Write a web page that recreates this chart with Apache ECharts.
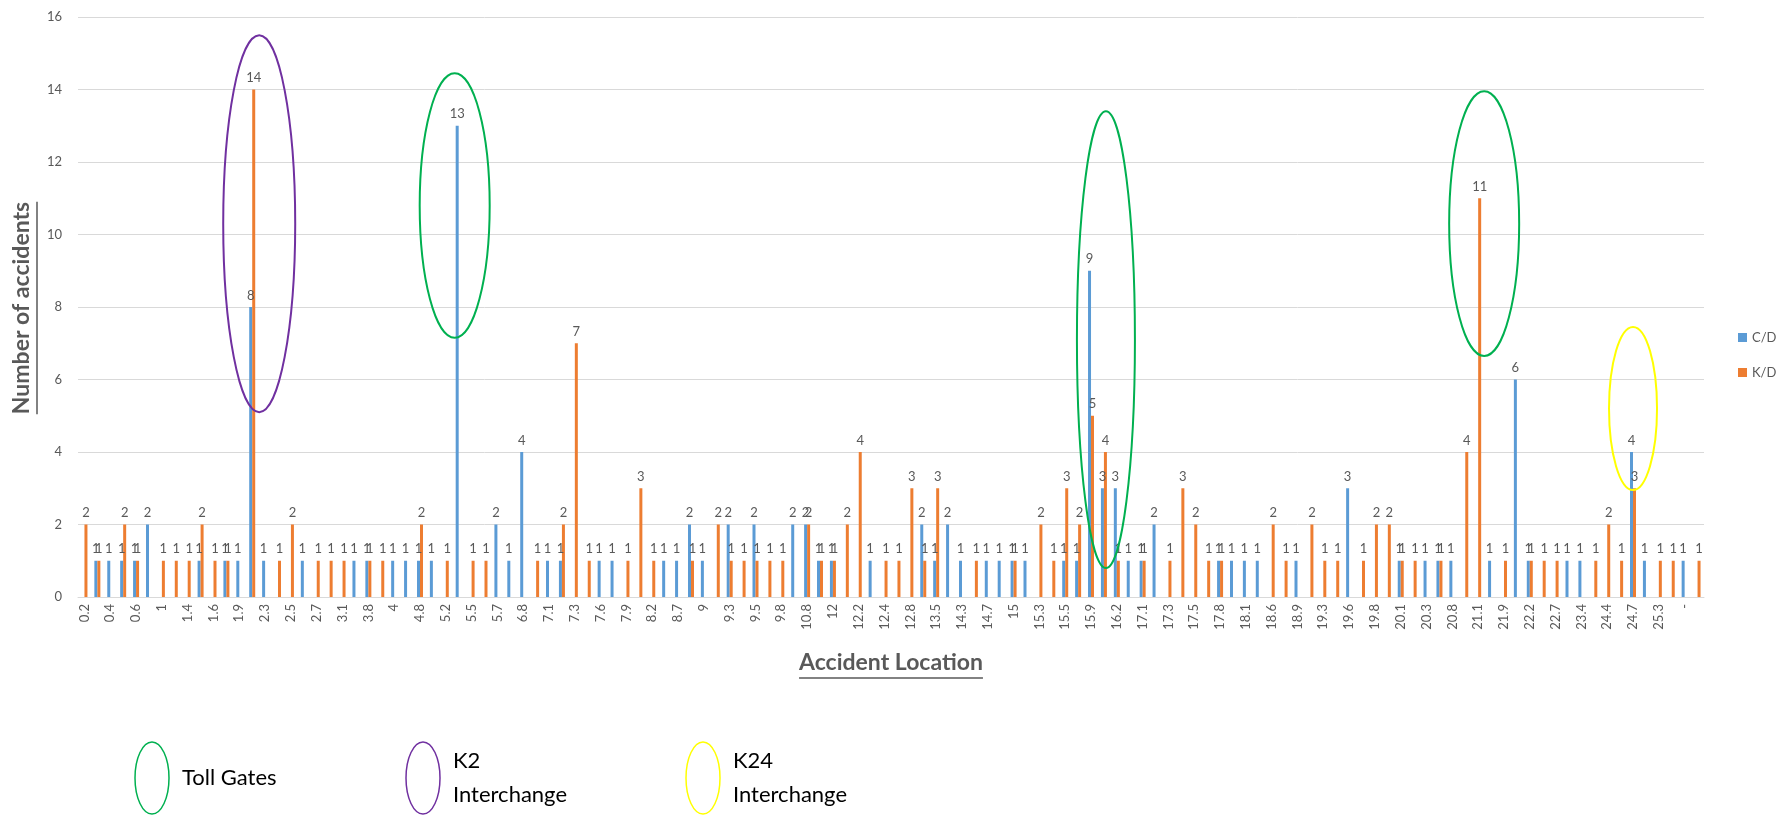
<!DOCTYPE html>
<html>
<head>
<meta charset="utf-8">
<script src="https://cdn.jsdelivr.net/npm/echarts@6/dist/echarts.min.js"></script>
<style>html,body{margin:0;padding:0;background:#fff}#main{width:1784px;height:816px}</style>
</head>
<body>
<div id="main"></div>
<script>
// accident location (km), every other one is labelled on the axis
var locations = ['0.2','0.3','0.4','0.5','0.6','0.8','1','1.2','1.4','1.5',
  '1.6','1.8','1.9','2','2.3','2.4','2.5','2.6','2.7','2.9',
  '3.1','3.5','3.8','3.9','4','4.5','4.8','5','5.2','5.3',
  '5.5','5.6','5.7','6.2','6.8','7','7.1','7.2','7.3','7.5',
  '7.6','7.8','7.9','8','8.2','8.5','8.7','8.9','9','9.2',
  '9.3','9.4','9.5','9.7','9.8','10.5','10.8','11.4','12','12.1',
  '12.2','12.3','12.4','12.6','12.8','13.2','13.5','13.8','14.3','14.5',
  '14.7','14.9','15','15.1','15.3','15.4','15.5','15.7','15.9','16',
  '16.2','16.5','17.1','17.2','17.3','17.4','17.5','17.6','17.8','17.9',
  '18.1','18.3','18.6','18.8','18.9','19.1','19.3','19.4','19.6','19.7',
  '19.8','20','20.1','20.2','20.3','20.5','20.8','21','21.1','21.5',
  '21.9','22','22.2','22.5','22.7','23','23.4','24','24.4','24.5',
  '24.7','25','25.3','25.5','-','(blank)'];

var cdCounts = [0,1,1,1,1,2,0,0,0,1,
  0,1,1,8,1,0,0,1,0,0,
  0,1,1,0,1,1,1,1,0,13,
  0,0,2,1,4,0,1,1,0,0,
  1,1,0,0,0,1,1,2,1,0,
  2,0,2,0,0,2,2,1,1,0,
  0,1,0,0,0,2,1,2,1,0,
  1,1,1,1,0,0,1,1,9,3,
  3,1,1,2,0,0,0,0,1,1,
  1,1,0,0,1,0,0,0,3,0,
  0,0,1,0,1,1,1,0,0,1,
  0,6,1,0,0,1,1,0,0,0,
  4,1,0,0,1,0];

var kdCounts = [2,1,0,2,1,0,1,1,1,2,
  1,1,0,14,0,1,2,0,1,1,
  1,0,1,1,0,0,2,0,1,0,
  1,1,0,0,0,1,0,2,7,1,
  0,0,1,3,1,0,0,1,0,2,
  1,1,1,1,1,0,2,1,1,2,
  4,0,1,1,3,1,3,0,0,1,
  0,0,1,0,2,1,3,2,5,4,
  1,0,1,0,1,3,2,1,1,0,
  0,0,2,1,0,2,1,1,0,1,
  2,2,1,1,0,1,0,4,11,0,
  1,0,1,1,1,0,0,1,2,1,
  3,0,1,1,0,1];

var chart = echarts.init(document.getElementById('main'));
var gray = '#595959';

function barLabel(p) {
  return p.value ? String(p.value) : '';
}

var option = {
  animation: false,
  grid: { left: 78, right: 80, top: 17, bottom: 219 },
  legend: {
    data: ['C/D', 'K/D'],
    orient: 'vertical',
    left: 1733,
    top: 326,
    icon: 'rect',
    itemWidth: 9,
    itemHeight: 9,
    itemGap: 22,
    textStyle: { fontSize: 13, color: gray, fontFamily: 'Lato' }
  },
  xAxis: {
    type: 'category',
    data: locations,
    axisTick: { show: false },
    axisLine: { lineStyle: { color: '#D9D9D9' } },
    axisLabel: { interval: 1, rotate: 90, fontSize: 13, color: gray, margin: 7, fontFamily: 'Lato' }
  },
  yAxis: {
    type: 'value',
    min: 0,
    max: 16,
    interval: 2,
    splitLine: { lineStyle: { color: '#D9D9D9' } },
    axisLabel: { fontSize: 13, color: gray, margin: 16, fontFamily: 'Lato' }
  },
  series: [{
    name: 'C/D',
    type: 'bar',
    data: cdCounts,
    barWidth: 3,
    barGap: '0%',
    itemStyle: { color: '#5B9BD5' },
    label: { show: true, position: 'top', distance: 5, fontSize: 13, color: gray, fontFamily: 'Lato', formatter: barLabel }
  }, {
    name: 'K/D',
    type: 'bar',
    data: kdCounts,
    barWidth: 3,
    itemStyle: { color: '#ED7D31' },
    label: { show: true, position: 'top', distance: 5, fontSize: 13, color: gray, fontFamily: 'Lato', formatter: barLabel }
  }]
};
chart.setOption(option);

// hand drawn ellipses round the hot spots
var rings = [
  { loc: '2', mid: 10.3, half: 5.2, rx: 36, dx: 7, color: '#7030A0' },
  { loc: '5.3', mid: 10.8, half: 3.65, rx: 35, dx: -4, color: '#00B050' },
  { loc: '16', mid: 7.1, half: 6.3, rx: 29, dx: 2, color: '#00B050' },
  { loc: '21.1', mid: 10.3, half: 3.65, rx: 35, dx: 6, color: '#00B050' },
  { loc: '24.7', mid: 5.2, half: 2.25, rx: 24, dx: 0, color: '#FFFF00' }
];

var ctx = document.createElement('canvas').getContext('2d');
function textWidth(font, txt) { ctx.font = font; return ctx.measureText(txt).width; }

var titleFont = 'bold 23px Lato';
var xTitle = 'Accident Location';
var yTitle = 'Number of accidents';
var xw = textWidth(titleFont, xTitle);
var yw = textWidth(titleFont, yTitle);

var graphics = [];
rings.forEach(function(r) {
  var idx = locations.indexOf(r.loc);
  var top = chart.convertToPixel({ gridIndex: 0 }, [idx, r.mid + r.half]);
  var bot = chart.convertToPixel({ gridIndex: 0 }, [idx, r.mid - r.half]);
  graphics.push({
    type: 'ellipse', z: 100,
    shape: { cx: top[0] + r.dx, cy: (top[1] + bot[1]) / 2, rx: r.rx, ry: (bot[1] - top[1]) / 2 },
    style: { fill: 'none', stroke: r.color, lineWidth: 2 }
  });
});

// axis titles (underlined)
graphics.push({
  type: 'text', x: 891, y: 663, z: 100,
  style: { text: xTitle, font: titleFont, fill: gray, textAlign: 'center', textVerticalAlign: 'middle' }
});
graphics.push({
  type: 'line', z: 100,
  shape: { x1: 891 - xw / 2, y1: 678, x2: 891 + xw / 2, y2: 678 },
  style: { stroke: gray, lineWidth: 1.5 }
});
graphics.push({
  type: 'text', x: 22, y: 308, rotation: Math.PI / 2, z: 100,
  style: { text: yTitle, font: titleFont, fill: gray, textAlign: 'center', textVerticalAlign: 'middle' }
});
graphics.push({
  type: 'line', z: 100,
  shape: { x1: 37, y1: 308 - yw / 2, x2: 37, y2: 308 + yw / 2 },
  style: { stroke: gray, lineWidth: 1.5 }
});

// key for the ellipses
var keys = [
  { x: 152, color: '#00B050', lines: ['Toll Gates'] },
  { x: 423, color: '#7030A0', lines: ['K2', 'Interchange'] },
  { x: 703, color: '#FFFF00', lines: ['K24', 'Interchange'] }
];
keys.forEach(function(k) {
  graphics.push({
    type: 'ellipse',
    shape: { cx: k.x, cy: 778, rx: 17, ry: 36 },
    style: { fill: 'none', stroke: k.color, lineWidth: 1.5 }
  });
  graphics.push({
    type: 'text', x: k.x + 30, y: 778,
    style: { text: k.lines.join('\n'), font: '22px Lato', lineHeight: 34, fill: '#000', textAlign: 'left', textVerticalAlign: 'middle' }
  });
});

chart.setOption({ graphic: graphics });
</script>
</body>
</html>
